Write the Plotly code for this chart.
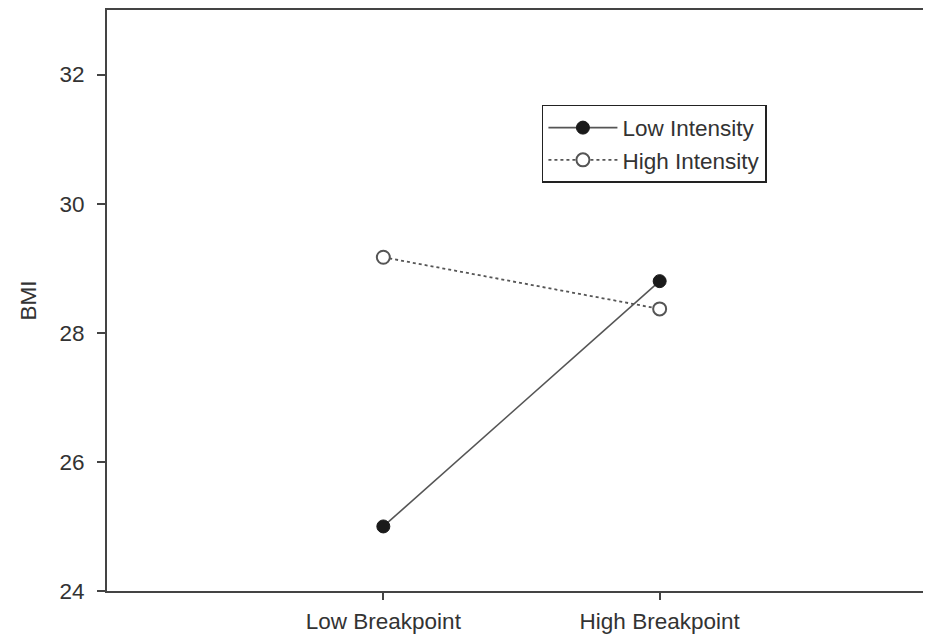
import plotly.graph_objects as go

categories = ["Low Breakpoint", "High Breakpoint"]
x_positions = [1, 2]
low_intensity = [25.0, 28.8]
high_intensity = [29.17, 28.37]
y_ticks = [24, 26, 28, 30, 32]

fig = go.Figure()
fig.add_trace(go.Scatter(
    x=x_positions, y=low_intensity, mode="lines+markers", name="Low Intensity",
    line=dict(color="#555555", width=1.6, dash="solid"),
    marker=dict(symbol="circle", size=13, color="#1a1a1a", line=dict(color="#1a1a1a", width=1)),
))
fig.add_trace(go.Scatter(
    x=x_positions, y=high_intensity, mode="lines+markers", name="High Intensity",
    line=dict(color="#555555", width=1.8, dash="dot"),
    marker=dict(symbol="circle", size=13, color="white", line=dict(color="#555555", width=2)),
))

font = dict(family="Liberation Sans, Arial, sans-serif", size=22.5, color="#333333")

# The page body has an ~8px default margin, so the figure is sized and offset to compensate.
fig.update_layout(
    width=915, height=626,
    margin=dict(l=99, r=0, t=0, b=42),
    paper_bgcolor="white", plot_bgcolor="white",
    font=font,
    showlegend=True,
    legend=dict(
        x=0.533, y=0.8365, xanchor="left", yanchor="top",
        bordercolor="#222222", borderwidth=1.5, bgcolor="white",
        font=font,
        tracegroupgap=0, itemwidth=69,
    ),
    xaxis=dict(
        range=[0, 2.953], tickmode="array", tickvals=x_positions, ticktext=categories,
        showgrid=False, zeroline=False,
        showline=True, linecolor="#444444", linewidth=2, mirror=True,
        ticks="outside", ticklen=7, tickwidth=1.5, tickcolor="#444444",
        tickfont=font, ticklabelstandoff=2,
    ),
    yaxis=dict(
        range=[24, 33], tickmode="array", tickvals=y_ticks,
        showgrid=False, zeroline=False,
        showline=True, linecolor="#444444", linewidth=2,
        ticks="outside", ticklen=8, tickwidth=1.5, tickcolor="#444444",
        tickfont=font, ticklabelstandoff=8,
        title=dict(text="BMI", font=font, standoff=17),
    ),
)

fig.write_html("out.html")
